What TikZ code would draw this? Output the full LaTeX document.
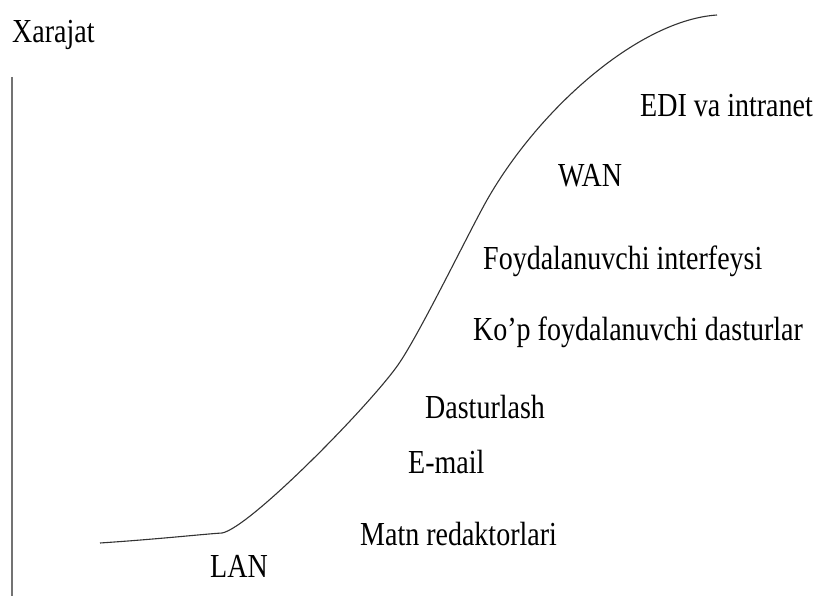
\documentclass[tikz,border=0pt]{standalone}
\usepackage{fontspec}
\setmainfont{Liberation Serif}
\usepackage{graphicx}
\usetikzlibrary{positioning}
\tikzset{
  lbl/.style = {anchor=base west, inner sep=0pt, font=\fontsize{28}{30}\selectfont},
  axis/.style = {draw=black!55, line width=1.6pt},
  costcurve/.style = {draw=black!80, line width=1.1pt}
}
\newcommand{\tall}[1]{\scalebox{1}[1.2]{#1}}

\begin{document}
\begin{tikzpicture}[x=1pt, y=-1pt]

  \useasboundingbox (0,0) rectangle (817,596);

  % Axis
  \coordinate (ytop) at (12,77);
  \coordinate (ybot) at (12,596);
  \draw[axis] (ytop) -- (ybot);
  \node[lbl] (xarajat) at (12,43) {\tall{Xarajat}};

  % Curve
  \coordinate (c0) at (100,543);
  \coordinate (c1) at (222,533);
  \coordinate (c2) at (400,362);
  \coordinate (c3) at (487,200);
  \coordinate (c4) at (717,15);
  \draw[costcurve] (c0) .. controls (160,539) and (205,534) .. (c1)
    .. controls (250,528) and (375,400) .. (c2)
    .. controls (422,329) and (470,230) .. (c3)
    .. controls (540,107) and (640,20) .. (c4);

  % Labels
  \node[lbl] (edi) at (640,117) {\tall{EDI va intranet}};
  \node[lbl] (wan) at (558,187) {\tall{WAN}};
  \node[lbl] (interf) at (483,270) {\tall{Foydalanuvchi interfeysi}};
  \node[lbl] (kop) at (473,340) {\tall{Ko’p foydalanuvchi dasturlar}};
  \node[lbl] (dast) at (425,418) {\tall{Dasturlash}};
  \node[lbl] (email) at (408,473) {\tall{E-mail}};
  \node[lbl] (matn) at (360,545) {\tall{Matn redaktorlari}};
  \node[lbl] (lan) at (210,577) {\tall{LAN}};

\end{tikzpicture}
\end{document}
